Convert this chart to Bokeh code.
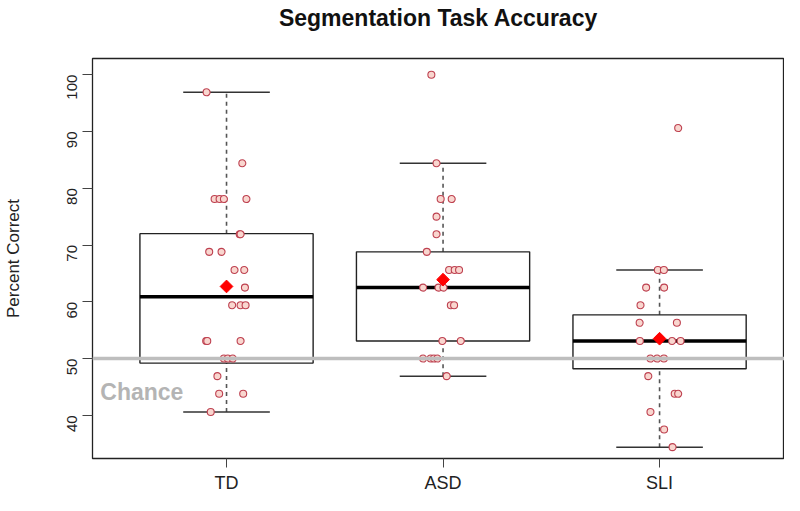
import math
from bokeh.plotting import figure
from bokeh.models import ColumnDataSource, FixedTicker, Span, Label, Title
from bokeh.embed import file_html
from bokeh.resources import INLINE

# ---------------- data ----------------
groups = ["TD", "ASD", "SLI"]

# box statistics (percent correct)
whisker_lo = [40.6, 46.9, 34.4]
q1 = [49.2, 53.1, 48.2]
medians = [60.9, 62.5, 53.1]
q3 = [72.0, 68.8, 57.7]
whisker_hi = [96.9, 84.4, 65.6]
means = [62.7, 63.9, 53.5]

# individual scores and their horizontal jitter (category units)
td_scores = [96.9, 84.4, 78.1, 78.1, 78.1, 78.1, 71.9, 71.9, 68.8, 68.8,
             65.6, 65.6, 62.5, 59.4, 59.4, 59.4, 53.1, 53.1, 53.1,
             50.0, 50.0, 50.0, 46.9, 43.8, 43.8, 40.6]
td_jitter = [-0.092, 0.073, -0.055, -0.032, -0.012, 0.092, 0.061, 0.065, -0.080, -0.023,
             0.037, 0.082, 0.085, 0.026, 0.065, 0.088, -0.094, -0.089, 0.065,
             -0.012, 0.006, 0.029, -0.042, -0.034, 0.077, -0.073]

asd_scores = [100.0, 84.4, 78.1, 78.1, 75.0, 71.9, 68.8, 65.6, 65.6, 65.6,
              62.5, 62.5, 62.5, 59.4, 59.4, 53.1, 53.1,
              50.0, 50.0, 50.0, 50.0, 46.9]
asd_jitter = [-0.054, -0.030, -0.011, 0.040, -0.030, -0.030, -0.075, 0.028, 0.054, 0.074,
              -0.092, -0.021, 0.002, 0.036, 0.051, -0.003, 0.082,
              -0.092, -0.057, -0.042, -0.026, 0.017]

sli_scores = [90.6, 65.6, 65.6, 62.5, 62.5, 59.4, 56.3, 56.3, 53.1, 53.1, 53.1,
              50.0, 50.0, 50.0, 46.9, 43.8, 43.8, 40.6, 37.5, 34.4]
sli_jitter = [0.086, -0.008, 0.020, -0.062, 0.021, -0.088, -0.092, 0.080, -0.091, 0.058, 0.097,
              -0.042, -0.011, 0.020, -0.052, 0.070, 0.086, -0.042, 0.021, 0.060]

chance_level = 50
y_ticks = [40, 50, 60, 70, 80, 90, 100]
title_text = "Segmentation Task Accuracy"

# ---------------- figure ----------------
p = figure(width=784, height=495, output_backend="svg", toolbar_location=None,
           x_range=(0.381, 3.577), y_range=(32.4, 102.85),
           min_border_left=92, min_border_right=0, min_border_top=57, min_border_bottom=35,
           title=title_text)
p.background_fill_color = "white"
p.border_fill_color = "white"
p.grid.visible = False
p.outline_line_color = "#222222"
p.outline_line_width = 1.3

p.title.align = "center"
p.title.vertical_align = "top"
p.title.standoff = 8
p.title.text_font = "Liberation Sans"
p.title.text_font_size = "23px"
p.title.text_font_style = "bold"
p.title.text_color = "#111111"

# blank spacer panel between the title and the plot area
p.add_layout(Title(text=" ", text_font_size="10px", standoff=9), "above")

pos = list(range(1, len(groups) + 1))

# x axis
p.xaxis.ticker = FixedTicker(ticks=pos)
p.xaxis.major_label_overrides = {i: g for i, g in zip(pos, groups)}
p.xaxis.minor_tick_line_color = None
p.xaxis.axis_line_color = None
p.xaxis.major_tick_out = 9
p.xaxis.major_tick_in = 0
p.xaxis.major_tick_line_color = "#444444"
p.xaxis.major_label_text_font = "Liberation Sans"
p.xaxis.major_label_text_font_size = "18px"
p.xaxis.major_label_text_color = "#222222"
p.xaxis.major_label_standoff = 5

# y axis
p.yaxis.ticker = FixedTicker(ticks=y_ticks)
p.yaxis.minor_tick_line_color = None
p.yaxis.axis_line_color = None
p.yaxis.major_tick_out = 10
p.yaxis.major_tick_in = 0
p.yaxis.major_tick_line_color = "#444444"
p.yaxis.major_label_orientation = math.pi / 2
p.yaxis.major_label_text_font = "Liberation Sans"
p.yaxis.major_label_text_font_size = "15px"
p.yaxis.major_label_text_color = "#222222"
p.yaxis.major_label_standoff = 10
p.yaxis.axis_label = "Percent Correct"
p.yaxis.axis_label_text_font = "Liberation Sans"
p.yaxis.axis_label_text_font_size = "17px"
p.yaxis.axis_label_text_font_style = "normal"
p.yaxis.axis_label_text_color = "#222222"
p.yaxis.axis_label_standoff = 37

# chance line
p.add_layout(Span(location=chance_level, dimension="width", line_color="#BEBEBE", line_width=3.5))

# boxes
box_w = 0.8
cap_w = 0.4
bsrc = ColumnDataSource(dict(
    x=pos,
    left=[x - box_w / 2 for x in pos], right=[x + box_w / 2 for x in pos],
    cl=[x - cap_w / 2 for x in pos], cr=[x + cap_w / 2 for x in pos],
    lo=whisker_lo, q1=q1, med=medians, q3=q3, hi=whisker_hi, mean=means,
))
p.segment(x0="x", x1="x", y0="q3", y1="hi", source=bsrc, line_color="#555555",
          line_width=1.6, line_dash="4 4")
p.segment(x0="x", x1="x", y0="lo", y1="q1", source=bsrc, line_color="#555555",
          line_width=1.6, line_dash="4 4")
p.segment(x0="cl", x1="cr", y0="hi", y1="hi", source=bsrc, line_color="#333333", line_width=1.5)
p.segment(x0="cl", x1="cr", y0="lo", y1="lo", source=bsrc, line_color="#333333", line_width=1.5)
p.quad(left="left", right="right", bottom="q1", top="q3", source=bsrc,
       fill_color=None, line_color="#222222", line_width=1.4)
p.segment(x0="left", x1="right", y0="med", y1="med", source=bsrc, line_color="black", line_width=3.5)

# points
px, py = [], []
for i, (scores, jit) in enumerate([(td_scores, td_jitter), (asd_scores, asd_jitter), (sli_scores, sli_jitter)]):
    for s, j in zip(scores, jit):
        px.append(pos[i] + j)
        py.append(s)
p.scatter(px, py, size=7, marker="circle", fill_color="#F9D6CF", line_color="#BE4150", line_width=1.1)

# means
p.scatter(x="x", y="mean", source=bsrc, marker="square", angle=math.pi / 4, size=9,
          fill_color="#FF0000", line_color="#FF0000")

# chance label
p.add_layout(Label(x=0.417, y=44.1, text="Chance", text_font="Liberation Sans",
                   text_font_size="23px", text_font_style="bold", text_color="#B4B4B4",
                   text_baseline="alphabetic"))

open("out.html", "w").write(file_html(p, INLINE))
